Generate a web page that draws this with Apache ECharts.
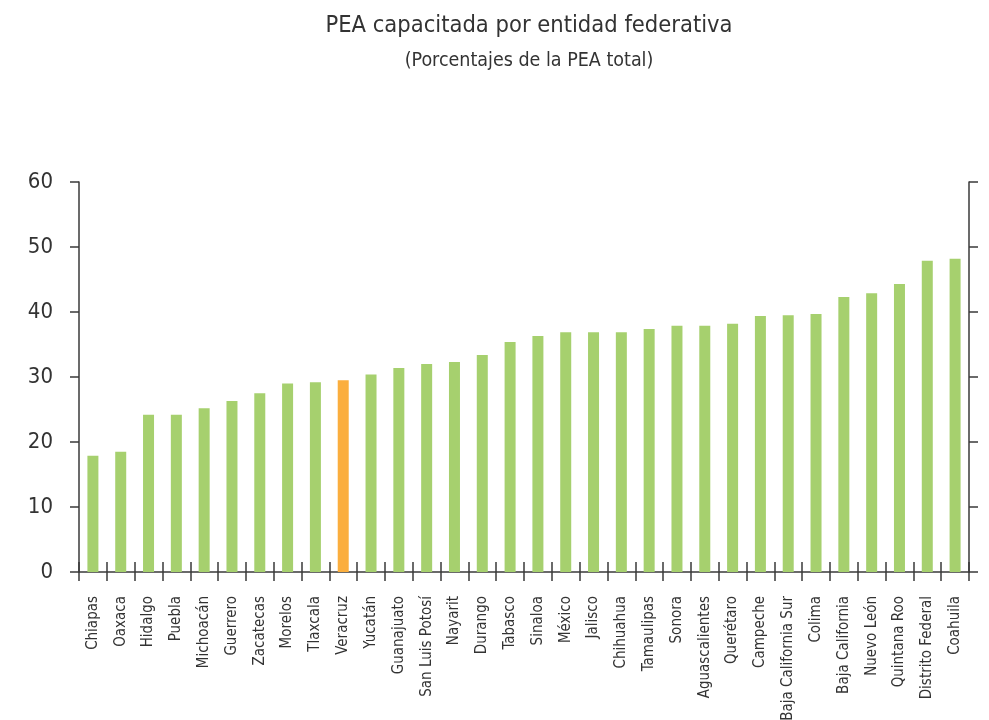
<!DOCTYPE html>
<html>
<head>
<meta charset="utf-8">
<script src="https://cdn.jsdelivr.net/npm/echarts@6/dist/echarts.min.js"></script>
<style>
  html, body { margin: 0; padding: 0; background: #fff; }
  #chart { width: 989px; height: 720px; }
</style>
</head>
<body>
<div id="chart"></div>
<script>
// Economically active population with training, by state (% of total EAP)
const estados = [
  'Chiapas', 'Oaxaca', 'Hidalgo', 'Puebla', 'Michoacán', 'Guerrero', 'Zacatecas',
  'Morelos', 'Tlaxcala', 'Veracruz', 'Yucatán', 'Guanajuato', 'San Luis Potosí',
  'Nayarit', 'Durango', 'Tabasco', 'Sinaloa', 'México', 'Jalisco', 'Chihuahua',
  'Tamaulipas', 'Sonora', 'Aguascalientes', 'Querétaro', 'Campeche',
  'Baja California Sur', 'Colima', 'Baja California', 'Nuevo León',
  'Quintana Roo', 'Distrito Federal', 'Coahuila'
];
const porcentajes = [
  17.9, 18.5, 24.2, 24.2, 25.2, 26.3, 27.5,
  29.0, 29.2, 29.5, 30.4, 31.4, 32.0,
  32.3, 33.4, 35.4, 36.3, 36.9, 36.9, 36.9,
  37.4, 37.9, 37.9, 38.2, 39.4,
  39.5, 39.7, 42.3, 42.9,
  44.3, 47.9, 48.2
];
const destacado = 'Veracruz';
const yTicks = [0, 10, 20, 30, 40, 50, 60];

const FONT = '"Liberation Sans Narrow", "DejaVu Sans Condensed", "Open Sans", sans-serif';
const VERDE = '#a6d06e';
const NARANJA = '#fbae3e';
const EJE = '#3a3a3a';
const TEXTO = '#333333';

const chart = echarts.init(document.getElementById('chart'), null, { renderer: 'canvas' });

const barData = estados.map((e, i) => ({
  value: porcentajes[i],
  itemStyle: { color: e === destacado ? NARANJA : VERDE }
}));

chart.setOption({
  animation: false,
  backgroundColor: '#ffffff',
  title: {
    text: 'PEA capacitada por entidad federativa',
    subtext: '(Porcentajes de la PEA total)',
    left: 524, textAlign: 'center', top: 9,
    itemGap: 13,
    textStyle: { fontFamily: FONT, fontSize: 23.5, fontWeight: 'normal', color: TEXTO },
    subtextStyle: { fontFamily: FONT, fontSize: 19.5, color: TEXTO }
  },
  // fixed plot rectangle; long rotated labels may run off the bottom edge
  grid: { left: 79, right: 20, top: 182, bottom: 148, outerBoundsMode: 'none', containLabel: false },
  xAxis: [
    {
      type: 'category',
      data: estados,
      position: 'bottom',
      axisLine: { show: true, lineStyle: { color: EJE, width: 1.5 } },
      axisTick: { show: true, length: 9, interval: 0, lineStyle: { color: EJE, width: 1.5 } },
      axisLabel: {
        interval: 0, rotate: 90, margin: 24,
        fontFamily: FONT, fontSize: 15, color: TEXTO
      }
    },
    {
      type: 'category',
      data: estados,
      position: 'bottom',
      axisLine: { show: false },
      axisTick: { show: true, inside: true, length: 10, interval: 0, lineStyle: { color: EJE, width: 1.5 } },
      axisLabel: { show: false }
    }
  ],
  yAxis: [
    {
      type: 'value', min: 0, max: 60, interval: 10, position: 'left',
      splitLine: { show: false },
      axisLine: { show: true, lineStyle: { color: EJE, width: 1.5 } },
      axisTick: { show: true, length: 9, lineStyle: { color: EJE, width: 1.5 } },
      axisLabel: {
        margin: 26, fontFamily: FONT, fontSize: 22, color: TEXTO,
        formatter: v => (yTicks.includes(v) ? String(v) : '')
      }
    },
    {
      type: 'value', min: 0, max: 60, interval: 10, position: 'right',
      splitLine: { show: false },
      axisLine: { show: true, lineStyle: { color: EJE, width: 1.5 } },
      axisTick: { show: true, length: 9, lineStyle: { color: EJE, width: 1.5 } },
      axisLabel: { show: false }
    }
  ],
  series: [{
    type: 'bar',
    xAxisIndex: 0,
    yAxisIndex: 0,
    data: barData,
    barWidth: 11
  }]
});
</script>
</body>
</html>
